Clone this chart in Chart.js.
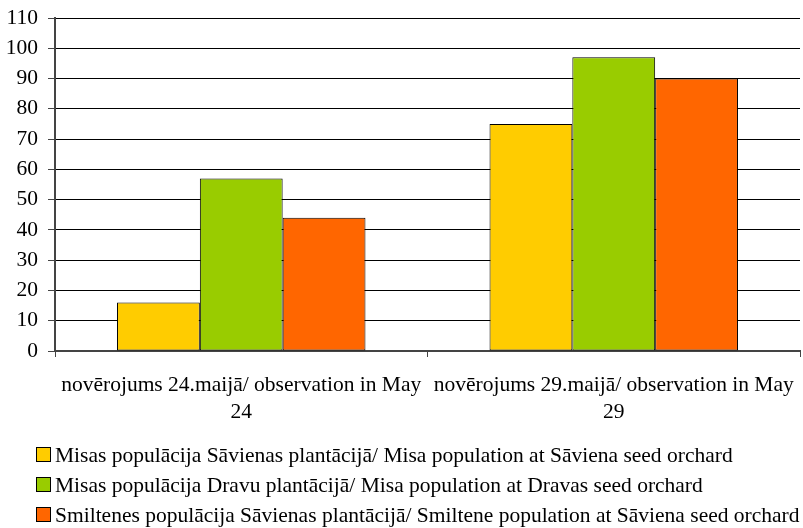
<!DOCTYPE html>
<html>
<head>
<meta charset="utf-8">
<script src="https://cdn.jsdelivr.net/npm/chart.js@4"></script>
<style>
  html, body { margin: 0; padding: 0; background: #fff; }
  #wrap { width: 803px; height: 528px; }
</style>
</head>
<body>
<div id="wrap"><canvas id="c" width="803" height="528"></canvas></div>
<script>
// Observation dates (two-line category labels)
const categories = [
  ['novērojums 24.maijā/ observation in May', '24'],
  ['novērojums 29.maijā/ observation in May', '29']
];

// Series names
const seriesNames = [
  'Misas populācija Sāvienas plantācijā/ Misa population at Sāviena seed orchard',
  'Misas populācija Dravu plantācijā/ Misa population at Dravas seed orchard',
  'Smiltenes populācija Sāvienas plantācijā/ Smiltene population at Sāviena seed orchard'
];

// Values per series
const misaSaviena = [16, 75];
const misaDravas = [57, 97];
const smilteneSaviena = [44, 90];

const seriesColors = ['#FFCC00', '#99CC00', '#FF6600'];

// Y axis range
const yMin = 0;
const yMax = 110;
const yStep = 10;

const serif = "'Liberation Serif', 'Times New Roman', serif";
const fontSize = 21.5;

const datasets = [misaSaviena, misaDravas, smilteneSaviena].map((vals, i) => ({
  label: seriesNames[i],
  data: vals,
  backgroundColor: seriesColors[i],
  borderColor: '#000',
  borderWidth: 1,
  borderSkipped: false,
  categoryPercentage: 0.667,
  barPercentage: 1.0
}));

// Stacked one-per-row legend, left aligned under the axis labels
const rowLegend = {
  id: 'rowLegend',
  afterDraw(chart) {
    const ctx = chart.ctx;
    const xBox = 36, box = 14, firstBaseline = 461.5, rowGap = 30.3;
    ctx.save();
    ctx.font = fontSize + 'px ' + serif;
    ctx.textBaseline = 'alphabetic';
    ctx.textAlign = 'left';
    chart.data.datasets.forEach((ds, i) => {
      const base = firstBaseline + i * rowGap;
      const top = Math.round(base - 15) + 0.5;
      ctx.fillStyle = ds.backgroundColor;
      ctx.fillRect(xBox + 0.5, top, box, box);
      ctx.strokeStyle = '#000';
      ctx.lineWidth = 1;
      ctx.strokeRect(xBox + 0.5, top, box, box);
      ctx.fillStyle = '#000';
      ctx.fillText(ds.label, xBox + box + 5, base);
    });
    ctx.restore();
  }
};

new Chart(document.getElementById('c'), {
  type: 'bar',
  data: { labels: categories, datasets },
  plugins: [rowLegend],
  options: {
    responsive: false,
    animation: false,
    devicePixelRatio: 1,
    layout: { padding: { top: 18, right: 3, left: 0, bottom: 93 } },
    plugins: {
      tooltip: { enabled: false },
      legend: { display: false }
    },
    scales: {
      x: {
        offset: true,
        grid: {
          display: true,
          offset: true,
          drawOnChartArea: false,
          drawTicks: true,
          tickLength: 6,
          color: '#444'
        },
        border: { color: '#444', width: 2 },
        ticks: {
          color: '#000',
          font: { family: serif, size: fontSize, lineHeight: 1.26 },
          padding: 15,
          maxRotation: 0,
          autoSkip: false
        },
        afterFit: (scale) => {
          scale.height = 84;
          scale.paddingLeft = 0;
          scale.paddingRight = 0;
        }
      },
      y: {
        min: yMin,
        max: yMax,
        ticks: {
          stepSize: yStep,
          color: '#000',
          font: { family: serif, size: fontSize },
          padding: 10
        },
        grid: {
          color: '#000',
          lineWidth: 1,
          tickLength: 7,
          tickColor: '#444'
        },
        border: { color: '#444', width: 2 },
        afterFit: (scale) => {
          scale.width = 55;
          scale.paddingTop = 0;
          scale.paddingBottom = 0;
        }
      }
    }
  }
});
</script>
</body>
</html>
